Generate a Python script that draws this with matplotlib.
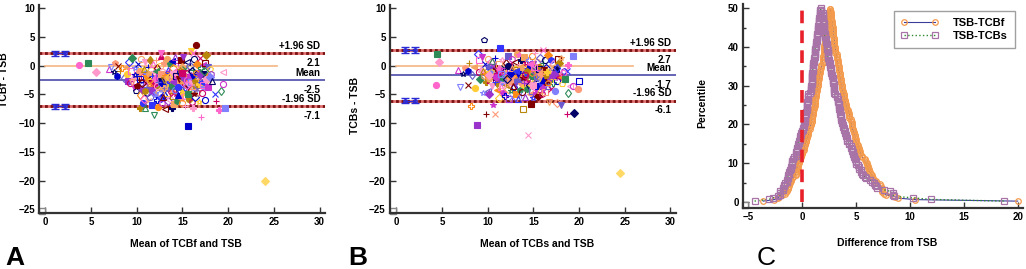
import numpy as np
import matplotlib
matplotlib.use("Agg")
import matplotlib.pyplot as plt
from matplotlib.ticker import MultipleLocator

plt.rcParams["font.family"] = ["Liberation Sans", "DejaVu Sans"]
plt.rcParams["font.weight"] = "bold"

# Bland-Altman points (mean of methods, difference)
diff_a = [
    (3.7, 0.1), (4.7, 0.5), (5.5, -1.2), (7.0, -0.6), (7.2, -0.3), (7.5, -1.2), (7.6, 0.4),
    (7.8, -1.8), (8.0, 0.0), (8.2, -1.0), (8.4, -0.5), (8.6, -2.2), (8.8, -0.2), (8.9, -1.5),
    (9.0, -2.7), (9.2, 0.6), (9.3, -3.1), (9.4, -1.0), (9.5, 1.3), (9.6, -2.0), (9.7, -3.8),
    (9.8, -0.4), (9.9, -4.5), (10.0, -1.6), (10.1, 0.2), (10.2, -2.6), (10.3, -7.3), (10.3, -5.2),
    (10.4, -3.4), (10.5, 1.2), (10.5, -0.9), (10.6, -4.1), (10.7, -6.5), (10.8, -2.0), (10.8, -5.8),
    (10.9, -7.4), (10.9, 0.6), (11.0, -3.0), (11.0, -1.3), (11.1, -4.8), (11.2, -6.2), (11.2, -0.3),
    (11.3, -2.4), (11.4, 1.0), (11.4, -3.7), (11.5, -5.4), (11.5, -1.8), (11.6, -0.8), (11.7, -4.3),
    (11.7, -6.9), (11.8, -2.9), (11.8, 0.3), (11.9, -8.6), (11.9, -1.2), (12.0, -3.4), (12.0, -5.0),
    (12.1, -2.1), (12.1, 0.9), (12.2, -6.0), (12.2, -0.5), (12.3, -3.9), (12.3, -7.2), (12.4, -1.5),
    (12.4, -4.6), (12.5, 0.0), (12.5, -2.7), (12.6, -5.6), (12.6, 1.6), (12.7, 2.1), (12.7, -3.2),
    (12.8, -1.0), (12.8, -6.5), (12.9, -4.1), (12.9, -2.2), (13.0, 0.5), (13.0, -5.2), (13.1, -7.6),
    (13.1, -3.6), (13.2, -1.6), (13.2, -2.9), (13.3, 1.2), (13.3, -4.7), (13.4, -6.2), (13.4, -0.7),
    (13.5, -2.4), (13.5, -3.9), (13.6, 0.2), (13.6, -5.8), (13.7, -1.3), (13.7, -3.1), (13.8, -7.4),
    (13.8, -4.4), (13.9, 0.8), (13.9, -2.0), (14.0, -5.3), (14.0, -0.4), (14.1, -3.5), (14.1, -6.7),
    (14.2, -1.7), (14.2, 1.4), (14.3, -2.8), (14.3, -4.9), (14.4, -0.9), (14.4, -6.1), (14.5, -3.3),
    (14.5, 0.4), (14.6, -2.1), (14.6, -4.2), (14.7, -5.6), (14.7, -1.1), (14.8, 1.0), (14.8, -3.7),
    (14.9, -6.6), (14.9, -2.5), (15.0, -0.2), (15.0, -4.6), (15.1, 1.5), (15.1, -1.9), (15.2, -3.0),
    (15.2, -5.3), (15.3, -0.6), (15.3, -7.0), (15.4, -2.7), (15.4, -4.0), (15.5, 0.6), (15.5, -1.4),
    (15.6, -10.5), (15.6, -3.5), (15.7, -5.9), (15.7, -2.2), (15.8, -0.1), (15.8, -4.5), (15.9, 2.6),
    (15.9, -1.6), (16.0, -3.1), (16.0, -6.3), (16.1, 2.2), (16.1, -0.8), (16.2, -7.4), (16.2, -2.6),
    (16.3, -4.1), (16.3, 1.1), (16.4, -1.9), (16.4, -5.4), (16.5, 3.6), (16.5, -3.4), (16.6, 0.3),
    (16.6, -2.3), (16.7, -4.7), (16.8, -6.4), (16.8, -1.2), (16.9, -3.0), (16.9, 1.3), (17.0, -8.9),
    (17.0, -0.4), (17.1, -2.1), (17.2, 0.1), (17.2, -3.6), (17.3, -1.5), (17.4, -2.8), (17.5, -6.0),
    (17.5, 0.4), (17.6, 1.9), (17.7, -1.9), (17.8, -0.2), (17.9, -2.5), (18.0, -0.6), (18.1, -1.4),
    (18.6, -5.0), (18.7, -6.1), (19.0, -7.8), (19.2, -4.4), (19.4, -1.2), (19.4, -3.2), (19.7, -7.4),
    (24.0, -20.0),
    # dense core of the cloud
    (10.2, -1.1), (10.4, -2.3), (10.6, -3.1), (10.8, -0.6), (11.0, -2.2), (11.1, -3.9), (11.3, -1.5),
    (11.4, -2.7), (11.6, -4.6), (11.7, -1.9), (11.9, -3.2), (12.0, -2.4), (12.1, -0.9), (12.2, -3.6),
    (12.4, -2.0), (12.5, -4.9), (12.6, -2.5), (12.7, -1.4), (12.8, -3.0), (12.9, -5.4), (13.0, -2.6),
    (13.1, -1.8), (13.2, -4.0), (13.3, -2.2), (13.4, -3.3), (13.5, -1.0), (13.6, -2.8), (13.7, -4.6),
    (13.8, -2.3), (13.9, -3.6), (14.0, -1.5), (14.1, -2.6), (14.2, -4.3), (14.3, -1.9), (14.4, -3.0),
    (14.5, -5.1), (14.6, -2.4), (14.7, -0.7), (14.8, -3.4), (14.9, -1.7), (15.0, -2.9), (15.1, -4.4),
    (15.2, -2.1), (15.3, -3.7), (15.4, -1.2), (15.5, -2.5), (15.6, -4.9), (15.7, -3.1), (15.8, -1.9),
    (15.9, -2.8), (16.0, -0.9), (16.1, -3.5), (16.2, -2.0), (16.3, -5.0), (16.4, -2.7), (16.5, -1.3),
    (16.6, -4.0), (16.7, -2.4), (16.8, -3.2), (16.9, -1.6), (17.0, -2.9), (17.1, -4.8), (17.3, -3.3),
    (17.4, -0.9), (17.6, -2.3), (17.8, -3.8), (18.0, -2.0), (18.2, -2.7), (9.5, -2.9), (9.8, -1.7),
    (10.0, -3.5), (10.9, -4.4), (11.5, -3.0), (12.3, -2.9), (13.0, -3.9), (13.5, -2.0), (14.0, -2.9),
    (14.5, -3.7), (15.0, -1.3), (15.5, -3.3),
]

diff_b = [
    (4.4, -3.4), (4.5, 2.0), (4.7, 0.6), (6.8, -0.8), (7.0, -3.7), (7.3, -1.5), (7.5, -0.5),
    (7.8, -1.0), (7.9, -3.4), (8.0, 0.5), (8.2, -7.0), (8.3, -1.7), (8.5, -0.3), (8.6, -3.9),
    (8.8, -10.3), (8.9, 2.0), (9.0, -1.2), (9.1, 0.9), (9.2, -2.3), (9.3, -0.6), (9.4, 1.4),
    (9.5, -4.8), (9.6, 4.4), (9.6, -1.9), (9.7, 0.2), (9.8, -8.5), (9.8, -2.9), (9.9, -0.9),
    (10.0, -4.5), (10.0, 1.1), (10.1, -1.5), (10.2, -5.0), (10.2, -0.2), (10.3, -2.6), (10.4, 0.6),
    (10.5, 0.8), (10.5, -3.5), (10.6, -6.8), (10.6, -1.2), (10.7, -2.0), (10.8, -8.4), (10.8, 1.3),
    (10.9, -0.5), (11.0, -3.0), (11.0, -4.2), (11.1, -1.6), (11.2, 0.3), (11.2, -5.7), (11.3, -2.4),
    (11.4, 3.1), (11.4, -0.9), (11.5, -3.7), (11.5, -1.9), (11.6, 1.0), (11.7, -4.7), (11.7, -2.8),
    (11.8, -0.4), (11.9, -1.3), (11.9, -5.3), (12.0, 0.5), (12.0, -3.3), (12.1, -2.1), (12.2, 1.7),
    (12.2, -4.0), (12.3, -0.8), (12.3, -5.9), (12.4, -2.6), (12.5, 0.1), (12.5, -1.7), (12.6, -4.4),
    (12.6, -3.0), (12.7, 1.2), (12.7, -5.5), (12.8, -0.3), (12.8, -2.2), (12.9, -3.8), (13.0, 0.7),
    (13.0, -1.2), (13.1, -4.9), (13.1, -2.7), (13.2, 2.0), (13.2, -0.6), (13.3, -3.4), (13.3, -5.8),
    (13.4, -1.8), (13.4, 1.8), (13.5, -4.2), (13.5, -0.1), (13.6, -2.4), (13.6, -5.2), (13.7, 0.9),
    (13.7, -3.1), (13.8, -1.4), (13.8, -4.6), (13.9, -7.6), (13.9, -0.5), (14.0, -2.0), (14.0, 1.4),
    (14.1, -3.6), (14.1, -5.5), (14.2, -1.0), (14.2, 0.4), (14.3, -2.9), (14.3, -4.1), (14.4, -12.0),
    (14.4, -1.6), (14.5, 0.9), (14.5, -3.3), (14.6, -5.0), (14.6, -0.3), (14.7, -6.7), (14.7, -2.3),
    (14.8, 1.6), (14.8, -4.4), (14.9, -1.1), (14.9, -3.0), (15.0, 0.2), (15.0, -5.6), (15.1, -2.0),
    (15.1, -3.8), (15.2, -0.7), (15.2, 2.2), (15.3, -4.7), (15.3, -1.5), (15.4, -2.8), (15.4, 0.6),
    (15.5, -3.5), (15.5, -5.3), (15.6, -0.2), (15.6, -1.9), (15.7, 1.3), (15.7, -4.2), (15.8, -2.5),
    (15.8, -0.9), (15.9, -3.2), (15.9, -5.0), (16.0, 2.7), (16.0, 0.4), (16.1, -1.4), (16.1, -3.9),
    (16.2, -2.2), (16.3, 0.9), (16.3, -4.6), (16.4, -0.5), (16.4, -2.9), (16.5, -1.7), (16.6, 1.8),
    (16.6, -3.6), (16.7, -6.3), (16.7, -0.9), (16.8, -2.4), (16.9, 1.0), (16.9, -4.1), (17.0, -1.2),
    (17.1, -3.0), (17.2, 0.3), (17.3, -2.0), (17.4, -4.5), (17.5, -0.6), (17.6, -6.5), (17.6, -2.7),
    (17.7, 1.2), (17.8, 0.5), (17.9, -1.6), (18.0, -6.9), (18.0, 1.3), (18.1, -3.2), (18.3, -1.0),
    (18.7, -0.9), (18.7, -8.4), (18.8, 0.1), (18.8, -4.8), (19.0, -3.5), (19.3, -3.6), (19.3, 1.7),
    (19.4, -8.2), (19.9, -4.0), (20.0, -2.7), (24.5, -18.7),
    # dense core of the cloud
    (9.5, -0.9), (9.8, -1.8), (10.0, -0.3), (10.2, -2.4), (10.4, -1.1), (10.6, 0.0), (10.8, -2.9),
    (11.0, -1.4), (11.2, -0.6), (11.4, -2.1), (11.6, -3.3), (11.8, -1.0), (12.0, -1.9), (12.2, -0.1),
    (12.4, -2.7), (12.6, -1.3), (12.8, -3.6), (13.0, -0.8), (13.2, -1.9), (13.4, -2.5), (13.6, -0.4),
    (13.8, -1.6), (14.0, -3.0), (14.2, -1.2), (14.4, -2.2), (14.6, 0.2), (14.8, -1.8), (15.0, -3.4),
    (15.2, -1.0), (15.4, -2.0), (15.6, -0.6), (15.8, -1.5), (16.0, -2.6), (16.2, -0.8), (16.4, -1.9),
    (16.6, -3.0), (16.8, -1.1), (17.0, -0.2), (17.2, -2.3), (17.4, -1.4), (17.6, -0.5), (17.8, -2.0),
    (18.2, -1.3), (18.5, -2.4), (10.1, -1.6), (10.9, -2.0), (11.5, -1.5), (12.1, -2.3), (12.7, -0.5),
    (13.3, -1.4), (13.9, -2.1), (14.3, -0.9), (14.9, -1.3), (15.3, -2.4), (15.9, -0.9), (16.5, -1.2),
    (17.1, -1.7), (13.1, -1.0), (14.1, -1.7), (15.1, -0.3),
]

# limits of agreement printed on the plots: (upper, mean, lower)
loa_a = (2.1, -2.5, -7.1)
loa_b = (2.7, -1.7, -6.1)

xlabels = ["Mean of TCBf and TSB", "Mean of TCBs and TSB"]
ylabels = ["TCBf - TSB", "TCBs - TSB"]
mountain_labels = ["TSB-TCBf", "TSB-TCBs"]

# marker styles cycled over the points
MARKERS = ["o", "s", "D", "^", "v", "*", "p", "h", "x", "+", "P", "d", "<", "o", "s", "D"]
COLORS = ["#ff66cc", "#000066", "#ff8c1a", "#3333ff", "#cc33cc", "#800000", "#ffcc33",
          "#2e8b57", "#ff9977", "#6a5acd", "#cc0066", "#8080ff", "#b8860b", "#9933cc",
          "#ff99cc", "#0000cc", "#f4a460"]

SPINE = "#333333"


def style_axes(ax):
    for s in ["top", "right"]:
        ax.spines[s].set_visible(False)
    for s in ["left", "bottom"]:
        ax.spines[s].set_linewidth(1.6)
        ax.spines[s].set_color(SPINE)
    ax.tick_params(direction="in", length=4, width=1, colors=SPINE, labelsize=7,
                   labelcolor="black", pad=3)
    ax.tick_params(which="minor", direction="in", length=2, width=1, colors=SPINE)
    for lab in ax.get_xticklabels() + ax.get_yticklabels():
        lab.set_fontweight("bold")


def bland_altman(ax, pts, loa, xlab, ylab, zero_end, ylab_y):
    for i, (x, y) in enumerate(pts):
        m = MARKERS[i % len(MARKERS)]
        c = COLORS[(i * 7) % len(COLORS)]
        filled = (i // 3) % 2 == 0 or m in ("x", "+")
        if y < -15:  # the far outlier is a pale yellow diamond
            m, c, filled = "D", "#ffd966", True
        ax.plot(x, y, m, ms=4.4, mew=0.8, color=c,
                mfc=c if filled else "none", zorder=3)
    up, mean, lo = loa
    ax.plot([0, zero_end], [0, 0], color="#f6b583", lw=1.2, zorder=2)
    ax.axhline(mean, color="#4a4aa8", lw=1.2, zorder=2)
    for v in (up, lo):
        ax.axhline(v, color="#e07070", lw=2.0, zorder=2)
        ax.axhline(v, color="#7a1010", lw=2.0, ls=(0, (1, 1)), zorder=2)
    # CI bars of the limits
    for v in (up, lo):
        ax.errorbar([1.0, 2.1], [v, v], yerr=0.45, color="#2b2bd6", lw=1, capsize=3,
                    capthick=1, marker="o", ms=2.5, mfc="none", zorder=4)
    # corner box
    ax.plot(-0.35, -25.35, "s", ms=5, mfc="white", mec="#888888", mew=1, clip_on=False)

    txt = dict(ha="right", fontsize=7, fontweight="bold", textcoords="offset points")
    for val, name in ((up, "+1.96 SD"), (mean, "Mean"), (lo, "-1.96 SD")):
        ax.annotate(name, (30.1, val), xytext=(0, 3), va="baseline", **txt)
        ax.annotate(f"{val:.1f}", (30.1, val), xytext=(0, -3.5), va="top", **txt)

    ax.set_xlim(-0.7, 30.6)
    ax.set_ylim(-25.7, 10.6)
    ax.set_xticks(range(0, 31, 5))
    ax.set_yticks(range(-25, 11, 5))
    ax.set_xlabel(xlab, fontsize=7.5, fontweight="bold")
    ax.set_ylabel(ylab, fontsize=7.5, fontweight="bold")
    ax.xaxis.set_label_coords(0.515, -0.125)
    ax.yaxis.set_label_coords(-0.105, ylab_y)
    style_axes(ax)


def mountain(d):
    d = np.sort(np.asarray(d))
    n = len(d)
    p = 100.0 * (np.arange(1, n + 1) - 0.5) / n
    p = np.where(p > 50, 100 - p, p)
    return d, p


fig = plt.figure(figsize=(10.26, 2.69), dpi=100)
ax_a = fig.add_axes([0.038, 0.207, 0.2788, 0.776])
ax_b = fig.add_axes([0.380, 0.207, 0.2788, 0.776])
ax_c = fig.add_axes([0.7239, 0.2279, 0.2732, 0.7558])

bland_altman(ax_a, diff_a, loa_a, xlabels[0], ylabels[0], 25.3, 0.64)
bland_altman(ax_b, diff_b, loa_b, xlabels[1], ylabels[1], 25.9, 0.515)

# mountain plot of TSB - TCB
xf, pf = mountain([-y for _, y in diff_a])
xs, ps = mountain([-y for _, y in diff_b])
ax_c.plot(xf, pf, "-", color="#3c3c9c", lw=0.8, marker="o", ms=4, mfc="none",
          mec="#f39a4c", mew=0.9, label=mountain_labels[0], zorder=3)
ax_c.plot(xs, ps, ":", color="#2e8b2e", lw=1.0, marker="s", ms=4, mfc="none",
          mec="#a874a8", mew=0.9, label=mountain_labels[1], zorder=4)
ax_c.plot([0, 0], [0, 50], color="#e8202a", lw=2.6, ls=(0, (3.5, 2)), zorder=5)
ax_c.plot(-5.25, -0.75, "s", ms=5, mfc="white", mec="#888888", mew=1, clip_on=False)

ax_c.set_xlim(-5.5, 20.5)
ax_c.set_ylim(-1.5, 51)
ax_c.set_xticks(range(-5, 21, 5))
ax_c.set_yticks(range(0, 51, 10))
ax_c.yaxis.set_minor_locator(MultipleLocator(5))
ax_c.set_xlabel("Difference from TSB", fontsize=7.5, fontweight="bold")
ax_c.set_ylabel("Percentile", fontsize=7.5, fontweight="bold")
ax_c.xaxis.set_label_coords(0.517, -0.15)
ax_c.yaxis.set_label_coords(-0.128, 0.515)
style_axes(ax_c)
leg = ax_c.legend(loc="upper right", bbox_to_anchor=(0.99, 0.995), fontsize=8,
                  frameon=True, fancybox=False, numpoints=2, handlelength=3.4,
                  borderpad=0.6, labelspacing=0.3, handletextpad=1.3)
leg.get_frame().set_edgecolor("#888888")
leg.get_frame().set_linewidth(1)
for t in leg.get_texts():
    t.set_fontweight("bold")

fig.text(5 / 1026, 4 / 269, "A", fontsize=19, fontweight="bold", va="baseline")
fig.text(348 / 1026, 4 / 269, "B", fontsize=19, fontweight="bold", va="baseline")
fig.text(757 / 1026, 4 / 269, "C", fontsize=19, fontweight="normal", va="baseline")

fig.savefig("out.png", dpi=100)
